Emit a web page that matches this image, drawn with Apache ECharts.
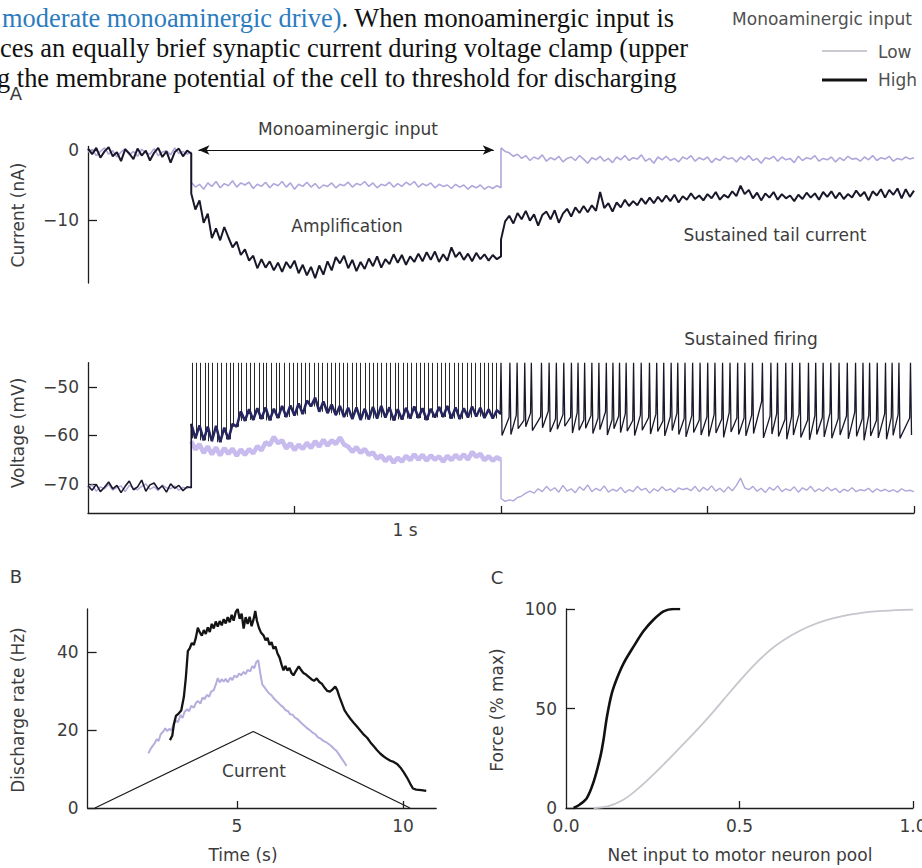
<!DOCTYPE html>
<html>
<head>
<meta charset="utf-8">
<script src="https://cdn.jsdelivr.net/npm/echarts@6/dist/echarts.min.js"></script>
<style>
html,body{margin:0;padding:0;background:#fff}
#chart{width:922px;height:868px}
</style>
</head>
<body>
<div id="chart"></div>
<script>
// ---------- Panel A: traces sampled every 20 ms ----------
const DT = 0.02;
const INPUT_ON = 0.5, INPUT_OFF = 2.0;   // monoaminergic input window (s)
const SPIKE_PEAK = -45;                   // spikes run off the top of the voltage frame

// Voltage-clamp current (nA)
const iHighRest = [0.2,-0.6,0.3,-1.1,-0.2,0.4,-0.9,-0.3,-1.6,0.1,-0.5,-1.3,0.2,-0.8,-0.1,-1.5,-0.4,0.3,-1.0,-0.2,-1.8,-0.3,0.2,-0.9,-0.1,-0.5];
const iHighDrive = [-6.2,-8.5,-7.2,-10.4,-9.1,-12.6,-11.2,-12.9,-11.0,-12.5,-13.9,-13.1,-15.0,-14.2,-15.8,-15.1,-16.9,-15.6,-16.8,-15.9,
  -17.2,-16.1,-17.4,-16.0,-16.9,-15.8,-17.6,-16.4,-17.9,-16.7,-18.3,-16.5,-17.8,-15.9,-17.2,-15.3,-16.2,-15.1,-16.9,-15.7,
  -17.3,-16.0,-17.0,-15.5,-16.6,-15.2,-16.8,-15.6,-16.3,-14.9,-16.1,-15.0,-16.4,-15.2,-16.0,-14.8,-15.9,-14.6,-15.7,-14.5,
  -16.0,-14.9,-15.8,-13.9,-15.3,-14.6,-15.7,-14.8,-15.9,-14.7,-15.6,-14.9,-15.8,-15.0,-15.6,-15.2];
const iHighTail = [-12.8,-10.2,-9.4,-10.5,-9.0,-9.9,-8.7,-10.1,-9.2,-10.8,-9.3,-8.8,-9.9,-8.6,-10.4,-9.1,-8.4,-9.5,-8.2,-9.0,
  -8.0,-8.9,-7.9,-8.7,-6.0,-8.3,-7.6,-8.8,-7.5,-8.2,-7.1,-8.0,-7.3,-7.9,-6.9,-7.7,-6.8,-7.6,-6.7,-7.4,
  -6.5,-7.3,-6.4,-7.5,-6.6,-7.1,-6.2,-7.0,-6.5,-7.2,-6.3,-6.9,-6.0,-7.1,-6.4,-6.8,-5.9,-6.6,-5.1,-6.3,
  -5.7,-6.9,-6.1,-7.2,-6.2,-6.8,-6.0,-7.1,-6.3,-6.9,-6.5,-7.3,-6.4,-7.0,-6.1,-6.8,-6.2,-7.1,-6.0,-6.7,
  -5.9,-6.9,-6.1,-7.0,-6.3,-6.8,-5.8,-6.6,-6.0,-7.2,-5.9,-6.5,-5.6,-6.8,-5.7,-6.4,-5.5,-6.9,-5.6,-6.7,-5.8];
const iLowRest = [-0.3,0.1,-0.8,-0.2,0.3,-0.6,-0.1,-1.0,-0.3,0.2,-0.7,-0.2,-0.9,0.1,-0.4,-0.6,0.2,-0.8,-0.3,-0.1,-0.7,0.3,-0.5,-0.2,-0.6,-0.3];
const iLowDrive = [-4.6,-5.3,-4.9,-5.6,-4.7,-5.2,-4.5,-5.4,-4.8,-5.1,-4.4,-5.3,-4.7,-5.0,-4.6,-5.5,-4.9,-5.2,-4.6,-5.4,
  -4.8,-5.1,-4.5,-5.3,-4.7,-5.6,-4.9,-5.2,-4.6,-5.3,-4.8,-5.5,-5.0,-5.2,-4.7,-5.4,-4.9,-5.1,-4.6,-5.3,
  -4.8,-5.0,-4.5,-5.2,-4.7,-5.4,-4.9,-5.1,-4.6,-5.3,-4.8,-5.2,-4.6,-5.0,-4.5,-5.3,-4.8,-5.1,-4.7,-5.4,
  -4.9,-5.2,-5.0,-5.5,-4.9,-5.3,-5.0,-5.6,-5.1,-5.4,-5.0,-5.6,-5.2,-5.5,-5.1,-5.4];
const iLowTail = [0.3,-0.2,-0.4,-0.9,-0.6,-1.2,-0.8,-1.5,-1.0,-1.3,-0.7,-1.6,-1.1,-1.4,-0.9,-1.7,-1.2,-1.0,-1.5,-0.8,
  -1.3,-1.9,-1.1,-1.4,-0.9,-1.6,-1.2,-1.8,-1.0,-1.4,-0.8,-1.5,-1.1,-1.3,-0.7,-1.6,-1.2,-1.9,-1.0,-1.4,
  -0.9,-1.5,-1.2,-1.7,-1.0,-1.3,-0.8,-1.6,-1.1,-1.4,-1.0,-1.8,-1.2,-1.5,-0.9,-1.3,-1.1,-1.7,-1.0,-1.4,
  -0.8,-1.5,-1.2,-1.9,-1.1,-1.3,-0.9,-1.6,-1.0,-1.4,-1.2,-1.8,-0.9,-1.5,-1.1,-1.3,-0.8,-1.6,-1.2,-1.4,
  -1.0,-1.7,-1.1,-1.5,-0.9,-1.3,-1.2,-1.6,-1.0,-1.4,-0.8,-1.5,-1.1,-1.3,-0.9,-1.6,-1.2,-1.4,-1.0,-1.3,-1.1];

// Membrane voltage (mV)
const vHighRest = [-70.4,-71.3,-70.1,-71.6,-70.7,-69.6,-71.0,-70.3,-71.8,-70.5,-69.4,-71.2,-70.6,-69.2,-71.5,-70.2,-69.8,-71.1,-70.4,-71.7,-70.0,-70.9,-70.3,-71.4,-70.6,-70.8];
const vHighDrive = [-57.6,-60.6,-57.9,-61.0,-58.2,-61.2,-58.0,-61.4,-58.4,-60.8,
  -57.6,-58.2,-55.0,-57.0,-54.6,-56.8,-54.4,-56.6,-54.2,-56.9,
  -54.5,-56.4,-53.9,-56.2,-53.8,-55.9,-53.4,-55.6,-52.8,-54.0,
  -52.2,-55.1,-53.0,-55.4,-53.6,-55.8,-53.9,-56.2,-54.3,-56.6,
  -54.2,-56.8,-54.5,-56.7,-54.1,-56.5,-53.9,-56.3,-54.2,-56.9,
  -54.6,-56.7,-54.3,-56.5,-54.0,-56.4,-54.4,-56.8,-54.5,-56.3,
  -54.1,-56.2,-53.9,-56.5,-54.2,-56.6,-54.4,-56.3,-54.0,-56.1,
  -54.3,-56.4,-54.6,-56.5,-54.8,-55.6];
const vLowRest = [-70.9,-70.2,-71.5,-70.6,-71.0,-70.1,-71.3,-70.7,-70.4,-71.6,-70.3,-70.9,-71.2,-70.5,-70.0,-71.1,-70.6,-71.4,-70.2,-70.8,-71.0,-70.4,-71.3,-70.7,-70.9,-70.5];
const vLowDrive = [-61.2,-62.9,-61.8,-63.6,-62.3,-63.9,-62.5,-64.1,-62.6,-63.8,-62.7,-64.2,-62.9,-64.0,-62.8,-63.7,-62.2,-63.1,-61.4,-62.0,
  -60.3,-61.6,-61.0,-62.7,-61.6,-63.0,-61.9,-62.8,-61.5,-62.6,-61.2,-62.3,-60.9,-62.1,-61.0,-61.8,-60.4,-61.9,-62.3,-63.4,
  -62.4,-63.6,-62.8,-64.0,-63.5,-64.8,-64.1,-65.3,-64.4,-65.6,-64.6,-65.4,-64.2,-65.1,-63.9,-65.0,-64.0,-65.2,-64.1,-65.0,
  -64.3,-65.4,-64.2,-65.1,-64.0,-64.9,-63.9,-65.0,-63.4,-64.4,-63.8,-65.1,-64.3,-65.2,-64.5,-65.0];
const vLowTail = [-73.0,-73.6,-73.3,-73.5,-72.8,-72.5,-71.9,-71.5,-71.9,-71.0,-71.6,-70.5,-71.4,-70.8,-71.7,-70.3,-71.5,-71.0,-71.8,-70.6,
  -71.3,-70.2,-71.6,-70.9,-71.4,-70.4,-71.7,-71.1,-71.5,-70.7,-71.8,-71.2,-71.6,-70.5,-71.3,-70.9,-71.9,-71.0,-71.5,-70.6,
  -71.4,-71.0,-71.7,-70.8,-71.2,-70.9,-71.4,-70.5,-71.6,-70.7,-71.3,-70.4,-71.5,-70.9,-71.7,-70.6,-71.4,-70.3,-68.8,-70.8,
  -71.2,-70.5,-71.5,-70.9,-71.8,-70.7,-71.3,-70.4,-71.6,-71.0,-71.4,-70.6,-71.7,-70.8,-71.3,-70.5,-71.6,-71.0,-71.5,-70.7,
  -71.4,-70.9,-71.8,-71.1,-71.5,-70.8,-71.6,-71.2,-71.4,-70.9,-71.7,-71.0,-71.5,-71.1,-71.6,-71.2,-71.7,-71.0,-71.5,-71.3,-71.6];

// Spike times (s) during the input, high monoaminergic drive
const spikeDrive = [0.503,0.522,0.546,0.566,0.584,0.603,0.626,0.647,0.670,0.688,0.704,0.727,0.743,0.767,0.786,0.807,0.828,0.847,0.864,0.888,
  0.912,0.928,0.952,0.976,0.992,1.011,1.032,1.054,1.073,1.096,1.115,1.133,1.157,1.178,1.196,1.219,1.238,1.257,1.281,1.300,
  1.318,1.342,1.361,1.383,1.402,1.421,1.445,1.463,1.486,1.504,1.527,1.545,1.566,1.588,1.607,1.629,1.648,1.669,1.690,1.711,
  1.732,1.751,1.773,1.795,1.814,1.836,1.857,1.876,1.898,1.919,1.940,1.958,1.979];
// Sustained firing after the input: spike time, level before the spike, after-hyperpolarisation trough
const spikeTail = [1.996,2.039,2.074,2.111,2.143,2.192,2.229,2.264,2.300,2.337,2.369,2.401,2.436,2.470,2.506,2.538,2.570,2.602,2.638,2.675,
  2.715,2.750,2.784,2.820,2.852,2.887,2.924,2.960,2.997,3.032,3.069,3.105,3.142,3.177,3.214,3.262,3.303,3.335,3.375,3.407,
  3.443,3.485,3.520,3.556,3.593,3.633,3.673,3.713,3.749,3.781,3.818,3.858,3.890,3.923,3.979];
const tailPre = [-55.6,-56.3,-55.8,-56.9,-55.4,-56.1,-55.0,-56.6,-55.7,-56.2,-55.3,-56.8,-55.9,-56.4,-55.1,-56.7,-56.0,-55.5,-56.9,-55.8,
  -56.3,-55.6,-57.0,-56.1,-55.4,-56.5,-55.9,-56.8,-56.2,-55.7,-56.6,-55.3,-56.4,-56.4,-55.8,-53.0,-56.0,-55.5,-56.7,-56.1,
  -55.6,-56.8,-55.9,-56.3,-55.4,-56.5,-56.0,-55.2,-56.6,-55.8,-56.9,-55.5,-56.2,-55.7,-56.4];
const tailTrough = [-60.0,-59.8,-58.6,-58.2,-59.0,-58.4,-59.3,-58.7,-58.1,-59.5,-58.9,-58.5,-59.6,-58.8,-59.9,-58.6,-59.4,-59.1,-60.0,-58.9,
  -59.7,-59.2,-60.1,-59.0,-59.8,-60.3,-59.4,-59.9,-60.2,-59.5,-60.4,-59.3,-59.8,-60.1,-59.6,-60.5,-59.7,-60.2,-60.8,-59.9,
  -60.4,-60.9,-59.8,-60.3,-60.6,-59.9,-60.7,-60.2,-61.0,-60.1,-60.5,-60.8,-60.0,-60.6,-59.9];

// ---------- Panel B: discharge rate during a triangular current ramp ----------
const bCurrentT = [0.72, 5.49, 10.21];
const bCurrentV = [0, 19.6, 0];
const bHighT = [2.98,3.05,3.10,3.16,3.24,3.32,3.40,3.46,3.52,3.58,3.64,3.70,3.76,3.82,3.88,3.94,4.00,4.06,4.12,4.18,
  4.24,4.30,4.36,4.42,4.48,4.54,4.60,4.66,4.72,4.78,4.84,4.90,4.96,5.02,5.08,5.14,5.20,5.26,5.32,5.38,
  5.44,5.50,5.55,5.60,5.66,5.72,5.80,5.86,5.92,5.98,6.04,6.10,6.16,6.22,6.28,6.34,6.40,6.46,6.52,6.58,
  6.64,6.70,6.78,6.86,6.92,7.00,7.08,7.16,7.24,7.32,7.40,7.48,7.56,7.64,7.72,7.80,7.88,7.96,8.02,8.08,
  8.16,8.24,8.32,8.42,8.52,8.62,8.72,8.82,8.92,9.02,9.12,9.22,9.32,9.42,9.52,9.62,9.72,9.82,9.92,10.02,
  10.12,10.22,10.30,10.40,10.55,10.70];
const bHighHz = [17.4,18.5,21.5,23.6,24.2,25.0,28.5,33.5,40.2,41.0,42.3,41.8,43.6,46.2,45.0,44.2,45.6,44.6,46.3,45.1,
  47.2,46.0,47.8,46.5,47.9,46.8,48.4,47.3,48.9,47.6,49.5,48.0,50.2,51.0,48.5,49.8,46.0,48.9,47.2,49.0,
  46.6,48.4,50.5,48.0,46.2,45.0,44.2,43.0,43.6,41.8,42.5,40.8,41.4,39.6,38.6,36.8,35.3,36.4,35.2,35.9,
  34.6,34.0,35.2,36.3,35.5,34.6,34.2,33.6,33.0,32.6,33.2,32.3,31.8,30.8,30.0,29.8,30.4,31.1,30.2,28.6,
  26.8,25.0,24.0,22.8,21.8,20.8,19.8,18.8,18.0,16.8,15.8,14.8,13.9,13.2,12.6,12.1,11.8,11.3,10.4,9.2,
  7.8,6.2,5.0,4.7,4.6,4.4];
const bLowT = [2.33,2.40,2.45,2.52,2.58,2.64,2.70,2.78,2.84,2.90,2.96,3.02,3.10,3.16,3.22,3.30,3.36,3.42,3.50,3.56,
  3.62,3.70,3.76,3.82,3.90,3.96,4.02,4.10,4.16,4.22,4.30,4.36,4.42,4.48,4.54,4.60,4.66,4.72,4.80,4.86,
  4.92,5.00,5.06,5.12,5.20,5.26,5.32,5.40,5.46,5.52,5.58,5.64,5.70,5.76,5.84,5.90,5.96,6.04,6.10,6.18,
  6.24,6.32,6.40,6.46,6.54,6.60,6.68,6.74,6.82,6.90,6.96,7.04,7.12,7.20,7.28,7.36,7.44,7.52,7.60,7.68,
  7.76,7.84,7.92,8.00,8.08,8.16,8.24,8.30];
const bLowHz = [14.0,15.2,15.8,16.6,17.6,17.2,18.9,19.6,20.4,19.7,20.3,19.9,21.6,22.4,22.0,23.8,23.1,24.6,25.3,24.8,
  26.2,25.7,26.9,27.4,26.8,28.3,27.9,29.0,28.5,29.8,30.2,31.6,33.3,32.2,33.0,32.4,33.1,32.2,33.4,32.8,
  33.9,33.5,34.5,34.0,34.9,34.3,35.4,35.0,36.4,35.8,37.4,37.9,34.6,31.7,30.8,30.1,29.4,28.9,28.2,27.5,
  27.0,26.3,25.8,25.1,24.8,24.0,23.9,23.2,22.8,22.1,21.6,21.0,20.4,19.9,19.3,18.9,18.1,17.8,17.2,16.9,
  16.4,15.9,15.2,14.6,13.6,12.6,11.6,10.8];

// ---------- Panel C: force recruitment ----------
const cHighX = [0.022,0.040,0.060,0.080,0.099,0.108,0.118,0.132,0.147,0.166,0.195,0.223,0.252,0.281,0.310,0.329];
const cHighF = [0,1.8,5.0,13.4,25.8,34.2,45.9,57.6,65.2,72.7,81.2,88.8,94.6,98.8,100,100];
const cLowX = [0.08,0.12,0.16,0.20,0.25,0.30,0.35,0.40,0.45,0.50,0.55,0.60,0.65,0.70,0.75,0.80,0.85,0.90,0.95,1.0];
const cLowF = [0,0.8,3.6,8.6,16.5,25.2,34.2,43.5,53.6,63.8,73.2,81.0,86.8,91.2,94.4,96.6,98.0,98.9,99.4,99.7];

// ---------- helpers ----------
const seg = (t0, vals) => vals.map((v, i) => [+(t0 + i * DT).toFixed(3), v]);
const pairs = (xs, ys) => xs.map((x, i) => [x, ys[i]]);
const FONT = '"DejaVu Sans", sans-serif';
const INK = '#3c3c3c';
const AXIS = '#1e1e1e';
const HIGH = '#18182a';
const LOW = '#b1a6dc';

const currentHigh = seg(0, iHighRest).concat(seg(INPUT_ON, iHighDrive), seg(INPUT_OFF, iHighTail));
const currentLow = seg(0, iLowRest).concat(seg(INPUT_ON, iLowDrive), seg(INPUT_OFF, iLowTail));
const voltLow = seg(0, vLowRest).concat(seg(INPUT_ON, vLowDrive), seg(INPUT_OFF, vLowTail));
const voltHighRest = seg(0, vHighRest).concat([[INPUT_ON, vHighDrive[0]]]);
const membraneDrive = seg(INPUT_ON, vHighDrive);
const driveSpikes = spikeDrive.map(t => {
  const k = (t - INPUT_ON) / DT;
  const a = vHighDrive[Math.floor(k)], b = vHighDrive[Math.min(vHighDrive.length - 1, Math.ceil(k))];
  return { coords: [[t, Math.min(a, b)], [t, SPIKE_PEAK]] };
});
const voltHighTail = [];
spikeTail.forEach((t, i) => {
  voltHighTail.push([t, tailPre[i]], [t + 0.004, SPIKE_PEAK], [t + 0.009, tailTrough[i]]);
});

const fmtMinus = v => (v < 0 ? '\u2212' : '') + Math.abs(v);

function xAx(grid, min, max, ticks, labels, fmt, show) {
  return {
    type: 'value', gridIndex: grid, min, max, show: show !== false,
    axisLine: { show: true, onZero: false, lineStyle: { color: AXIS, width: 1.3 } },
    axisTick: { show: !!ticks, inside: true, length: 7, customValues: ticks || [], lineStyle: { color: AXIS, width: 1.3 } },
    axisLabel: { show: !!labels, customValues: labels || [], color: INK, fontSize: 17, fontFamily: FONT, margin: 9, formatter: fmt },
    splitLine: { show: false }
  };
}
function yAx(grid, min, max, ticks, labels, fmt) {
  return {
    type: 'value', gridIndex: grid, min, max,
    axisLine: { show: true, onZero: false, lineStyle: { color: AXIS, width: 1.3 } },
    axisTick: { show: true, inside: true, length: 9, customValues: ticks, lineStyle: { color: AXIS, width: 1.3 } },
    axisLabel: { customValues: labels, color: INK, fontSize: 17, fontFamily: FONT, margin: 9, formatter: fmt },
    splitLine: { show: false }
  };
}
const line = (xi, data, color, width, extra) => Object.assign({
  type: 'line', xAxisIndex: xi, yAxisIndex: xi, data, symbol: 'none', silent: true,
  lineStyle: { color, width }, animation: false
}, extra || {});

function txt(x, y, s, o) {
  o = o || {};
  return {
    type: 'text', x, y, rotation: o.rot || 0, silent: true,
    style: { text: s, fill: o.fill || INK, font: (o.size || 17) + 'px ' + (o.family || FONT), align: o.align || 'center', verticalAlign: 'middle' }
  };
}

// top running text of the page, with its blue link phrase
const SERIF = '"Liberation Serif", "Times New Roman", serif';
const SERIF_SIZE = 26.4;
const mctx = document.createElement('canvas').getContext('2d');
mctx.font = SERIF_SIZE + 'px ' + SERIF;
const linkText = 'moderate monoaminergic drive)';
const linkW = mctx.measureText(linkText).width;

const graphics = [
  txt(2, 18, linkText, { family: SERIF, size: SERIF_SIZE, fill: '#2b7bbf', align: 'left' }),
  txt(2 + linkW, 18, '. When monoaminergic input is', { family: SERIF, size: SERIF_SIZE, fill: '#111', align: 'left' }),
  txt(0, 48, 'ces an equally brief synaptic current during voltage clamp (upper', { family: SERIF, size: SERIF_SIZE, fill: '#111', align: 'left' }),
  txt(-3, 78, 'g the membrane potential of the cell to threshold for discharging', { family: SERIF, size: SERIF_SIZE, fill: '#111', align: 'left' }),
  // legend
  txt(822, 19, 'Monoaminergic input', { fill: '#505050' }),
  { type: 'line', silent: true, shape: { x1: 822, y1: 51, x2: 867, y2: 51 }, style: { stroke: '#b9b9c2', lineWidth: 1.3 } },
  txt(878, 52, 'Low', { align: 'left', fill: '#505050' }),
  { type: 'line', silent: true, shape: { x1: 822, y1: 80, x2: 867, y2: 80 }, style: { stroke: '#111', lineWidth: 3 } },
  txt(878, 80, 'High', { align: 'left', fill: '#505050' }),
  // panel letters
  txt(16, 93, 'A', { size: 18 }),
  txt(16, 576, 'B', { size: 18 }),
  txt(497, 577, 'C', { size: 18 }),
  // annotations
  txt(348, 129, 'Monoaminergic input'),
  txt(347, 226, 'Amplification'),
  txt(775, 235, 'Sustained tail current'),
  txt(751, 339, 'Sustained firing'),
  txt(405, 530, '1 s'),
  txt(254, 771, 'Current'),
  // axis titles
  txt(18, 215, 'Current (nA)', { rot: Math.PI / 2 }),
  txt(18, 433, 'Voltage (mV)', { rot: Math.PI / 2 }),
  txt(18, 710, 'Discharge rate (Hz)', { rot: Math.PI / 2 }),
  txt(497, 710, 'Force (% max)', { rot: Math.PI / 2 }),
  txt(243, 855, 'Time (s)'),
  txt(740, 855, 'Net input to motor neuron pool')
];

const ARROW_PAD = 0.035;
const option = {
  backgroundColor: '#fff',
  animation: false,
  grid: [
    { left: 88, top: 146.5, width: 826, height: 136.5, containLabel: false, outerBoundsMode: 'none' },
    { left: 88, top: 362.75, width: 826, height: 150.25, containLabel: false, outerBoundsMode: 'none' },
    { left: 87.6, top: 609, width: 348.6, height: 199, containLabel: false, outerBoundsMode: 'none' },
    { left: 566, top: 609, width: 347, height: 199, containLabel: false, outerBoundsMode: 'none' }
  ],
  xAxis: [
    xAx(0, 0, 4, null, null, null, false),
    xAx(1, 0, 4, [1, 2, 3, 4], null),
    xAx(2, 0.5, 11, [5, 10], [5, 10], v => String(v)),
    xAx(3, 0, 1, [0.5, 1], [0, 0.5, 1], v => v.toFixed(1))
  ],
  yAxis: [
    yAx(0, -19, 0.5, [0, -10], [0, -10], fmtMinus),
    yAx(1, -76, -45, [-50, -60, -70], [-50, -60, -70], fmtMinus),
    yAx(2, 0, 51, [0, 20, 40], [0, 20, 40], v => String(v)),
    yAx(3, 0, 100, [0, 50, 100], [0, 50, 100], v => String(v))
  ],
  series: [
    // A, current
    line(0, currentLow, LOW, 1.6),
    line(0, currentHigh, HIGH, 2.0, {
      markLine: {
        silent: true, animation: false, symbol: ['arrow', 'arrow'], symbolSize: [7, 11],
        label: { show: false }, lineStyle: { color: '#111', width: 1.2, type: 'solid' },
        data: [[{ coord: [INPUT_ON + ARROW_PAD, 0] }, { coord: [INPUT_OFF - ARROW_PAD, 0] }]]
      }
    }),
    // A, voltage
    line(1, voltLow, LOW, 1.4),
    line(1, seg(INPUT_ON, vLowDrive), '#c8bbee', 4.6),
    {
      type: 'lines', coordinateSystem: 'cartesian2d', xAxisIndex: 1, yAxisIndex: 1, silent: true, animation: false,
      polyline: false, lineStyle: { color: '#2a2a2a', width: 1, opacity: 1, curveness: 0 }, data: driveSpikes
    },
    line(1, membraneDrive, '#26255f', 2.6),
    line(1, voltHighRest, HIGH, 1.6),
    line(1, voltHighTail, HIGH, 1.3),
    // B
    line(2, pairs(bCurrentT, bCurrentV), '#1a1a1a', 1.2),
    line(2, pairs(bLowT, bLowHz), '#b6addc', 2.0),
    line(2, pairs(bHighT, bHighHz), '#141414', 2.3),
    // C
    line(3, pairs(cLowX, cLowF), '#c6c6cd', 1.8, { smooth: 0.4 }),
    line(3, pairs(cHighX, cHighF), '#111', 2.6, { smooth: 0.3 })
  ],
  graphic: graphics
};

const chart = echarts.init(document.getElementById('chart'), null, { renderer: 'svg' });
chart.setOption(option);
</script>
</body>
</html>
